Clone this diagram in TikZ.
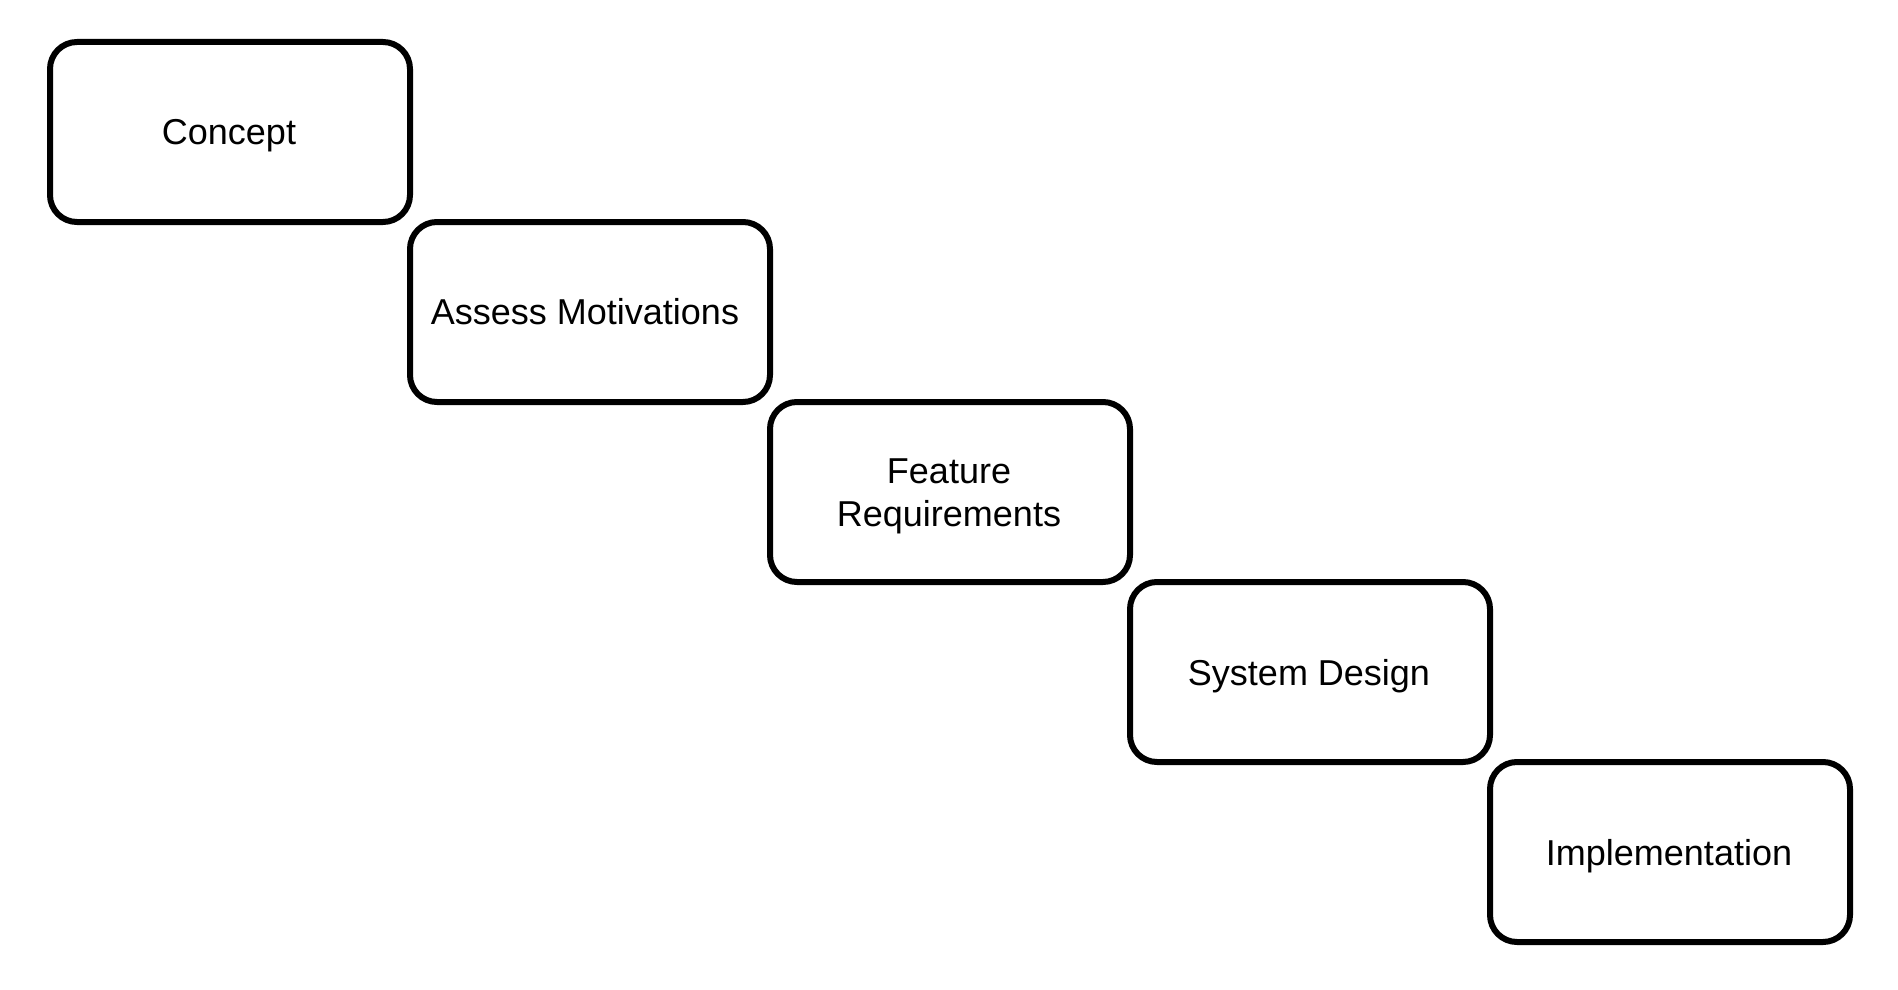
\documentclass[tikz,border=0pt]{standalone}
\usepackage{fontspec}
\setmainfont{Liberation Sans}
\begin{document}
\begin{tikzpicture}[x=1pt,y=-1pt,
  stage/.style={draw=black, line width=6pt, rounded corners=27pt, fill=white,
    minimum width=360pt, minimum height=180pt, inner sep=0pt, outer sep=0pt},
  stagetext/.style={inner sep=0pt, outer sep=0pt, align=center,
    font=\fontsize{36}{43}\selectfont}]
\fill[white] (0,0) rectangle (1898,990);
\useasboundingbox (0,0) rectangle (1898,990);
\node[stage] (concept) at (230,132) {};
\node[stage] (assess) at (590,312) {};
\node[stage] (feature) at (950,492) {};
\node[stage] (system) at (1310,672) {};
\node[stage] (impl) at (1670,852) {};
\node[stagetext] (conceptT) at ([xshift=-1pt,yshift=-4pt]concept.center) {Concept};
\node[stagetext] (assessT) at ([xshift=-5pt,yshift=0pt]assess.center) {Assess Motivations};
\node[stagetext] (featureT) at ([xshift=-1pt,yshift=-4pt]feature.center) {Feature\\Requirements};
\node[stagetext] (systemT) at ([xshift=-1pt,yshift=-4pt]system.center) {System Design};
\node[stagetext] (implT) at ([xshift=-1pt,yshift=-4pt]impl.center) {Implementation};
\end{tikzpicture}
\end{document}
